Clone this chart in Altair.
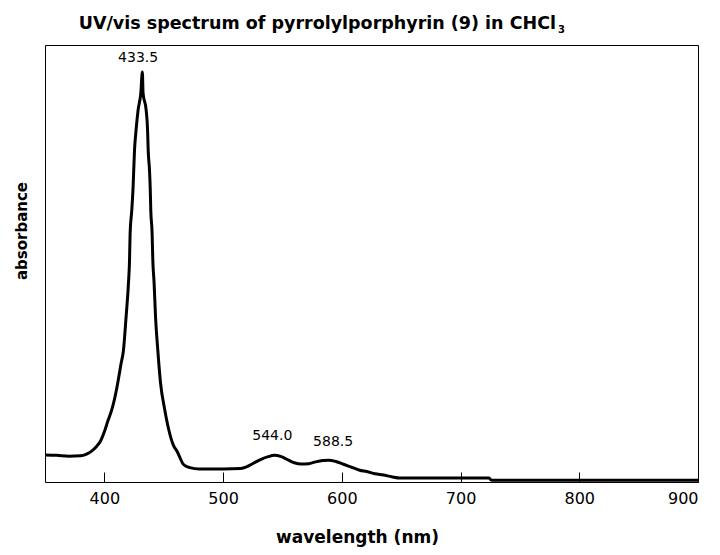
import altair as alt
import pandas as pd

wavelength = [350, 360, 370, 380, 385, 389, 393, 397, 400.5, 403, 406.2, 409, 411.3, 414,
              416.1, 418.3, 420.3, 421.2, 421.7, 423.1, 424.2, 425.4, 426.7, 428.4, 430.7,
              432.0, 432.6, 435.2, 436.4, 436.9, 438.0, 438.6, 439.1, 440.2, 440.8, 441.9,
              443.1, 445.0, 447.3, 450.9, 454.3, 458, 461.3, 466.7, 472, 480, 500, 515, 520,
              525.6, 532, 538, 543, 549, 555, 560, 566, 572, 578, 584, 589, 595, 602, 608,
              615, 621, 628, 635, 642, 649, 660, 700, 724, 726, 800, 900]
absorbance = [0.062, 0.061, 0.059, 0.060, 0.064, 0.070, 0.080, 0.095, 0.119, 0.140, 0.165,
              0.195, 0.227, 0.270, 0.302, 0.378, 0.455, 0.508, 0.570, 0.622, 0.675, 0.760,
              0.805, 0.851, 0.890, 0.938, 0.890, 0.851, 0.805, 0.760, 0.714, 0.675, 0.622,
              0.570, 0.508, 0.455, 0.378, 0.302, 0.227, 0.165, 0.119, 0.085, 0.070, 0.040,
              0.033, 0.030, 0.030, 0.031, 0.035, 0.043, 0.052, 0.058, 0.061, 0.058, 0.050,
              0.044, 0.041, 0.042, 0.046, 0.049, 0.050, 0.047, 0.040, 0.034, 0.027, 0.024,
              0.019, 0.016, 0.012, 0.009, 0.009, 0.009, 0.009, 0.004, 0.004, 0.004]

peak_labels = ["433.5", "544.0", "588.5"]
peak_wl = [433.5, 544.0, 588.5]
peak_abs = [0.970, 0.105, 0.091]
label_dx = [-6, -3, 5]

x_ticks = [400, 500, 600, 700, 800, 900]

df = pd.DataFrame({"wavelength": wavelength, "absorbance": absorbance})

xs = alt.Scale(domain=[350, 900], nice=False, zero=False)
ys = alt.Scale(domain=[0, 1], nice=False)

line = alt.Chart(df).mark_line(color="black", strokeWidth=3, interpolate="monotone").encode(
    x=alt.X("wavelength:Q", scale=xs,
            axis=alt.Axis(values=x_ticks, title=None, domain=False, grid=False,
                          offset=-10, tickSize=10, tickColor="black", tickWidth=1,
                          labelFont="DejaVu Sans", labelFontSize=16, labelColor="black",
                          labelPadding=8, format="d")),
    y=alt.Y("absorbance:Q", scale=ys, axis=None),
)

layers = [line]
for lab, wl, ab, dx in zip(peak_labels, peak_wl, peak_abs, label_dx):
    pdf = pd.DataFrame({"wavelength": [wl], "absorbance": [ab], "label": [lab]})
    layers.append(alt.Chart(pdf).mark_text(font="DejaVu Sans", fontSize=14, color="black",
                                           baseline="middle", align="center", dx=dx).encode(
        x=alt.X("wavelength:Q", scale=xs),
        y=alt.Y("absorbance:Q", scale=ys),
        text="label:N"))

title_df = pd.DataFrame({"t": ["UV/vis spectrum of pyrrolylporphyrin (9) in CHCl"]})
layers.append(alt.Chart(title_df).mark_text(font="DejaVu Sans", fontWeight="bold", fontSize=17.5,
                                            color="black", align="right", baseline="alphabetic").encode(
    x=alt.value(511), y=alt.value(-16), text="t:N"))
sub_df = pd.DataFrame({"t": ["3"]})
layers.append(alt.Chart(sub_df).mark_text(font="DejaVu Sans", fontWeight="bold", fontSize=10,
                                          color="black", align="left", baseline="alphabetic").encode(
    x=alt.value(513), y=alt.value(-12), text="t:N"))

xt_df = pd.DataFrame({"t": ["wavelength (nm)"]})
layers.append(alt.Chart(xt_df).mark_text(font="DejaVu Sans", fontWeight="bold", fontSize=17,
                                         color="black", align="center", baseline="alphabetic").encode(
    x=alt.value(312.5), y=alt.value(498), text="t:N"))
yt_df = pd.DataFrame({"t": ["absorbance"]})
layers.append(alt.Chart(yt_df).mark_text(font="DejaVu Sans", fontWeight="bold", fontSize=15,
                                         color="black", align="center", baseline="middle",
                                         angle=270).encode(
    x=alt.value(-23), y=alt.value(186), text="t:N"))

chart = alt.layer(*layers).properties(
    width=653, height=437,
    autosize=alt.AutoSizeParams(type="none"),
    padding={"left": 37, "top": 37, "right": 14, "bottom": 65},
    background="white",
).configure_view(stroke="black", strokeWidth=1)

chart.save("out.html", embed_options={"renderer": "svg", "actions": False})
